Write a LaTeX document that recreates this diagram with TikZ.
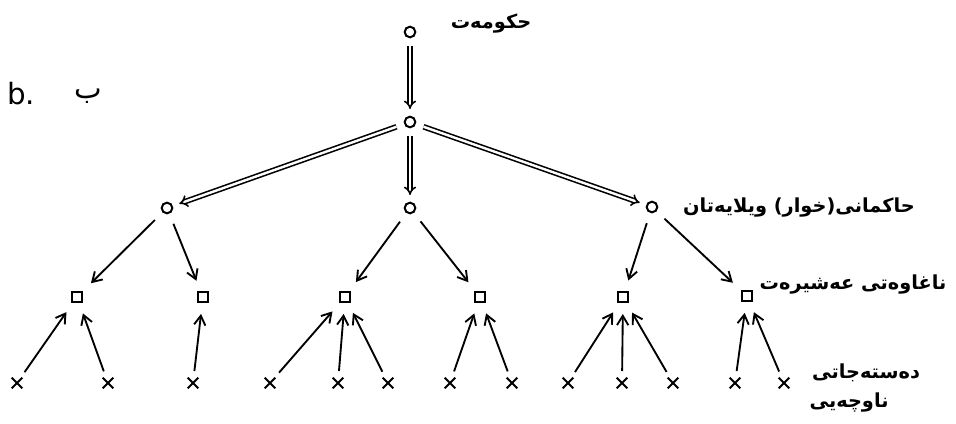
\documentclass[tikz,border=0pt]{standalone}
\usepackage{fontspec}
\setmainfont{DejaVu Sans}
\newfontfamily\kurdfont[Script=Arabic]{DejaVu Sans}
\TeXXeTstate=1
\usetikzlibrary{arrows.meta,shapes.misc}

\begin{document}
\begin{tikzpicture}[x=0.75pt,y=-0.75pt,>={Straight Barb[length=7pt,width=8.5pt]},
    ring/.style={circle,draw,line width=1.5pt,inner sep=0pt,minimum size=8pt},
    box/.style={rectangle,draw,line width=1.5pt,inner sep=0pt,minimum size=8pt},
    member/.style={cross out,draw,line width=1.5pt,inner sep=0pt,minimum size=6.5pt},
    down/.style={->,line width=1.4pt,shorten <=8pt,shorten >=8pt},
    up/.style={->,line width=1.4pt,shorten <=5pt,shorten >=8pt},
    rule/.style={double,double distance=1.8pt,line width=1.2pt,-{Implies[scale=1.3]},shorten <=6pt,shorten >=5pt},
    lbl/.style={font=\kurdfont\bfseries\fontsize{14.5}{14.5}\selectfont}]
        \useasboundingbox (0,0) rectangle (956,424);
        %government and the tier under it
        \node[ring] (gov) at (410,32) {};
        \node[ring] (mid) at (410,122) {};
        \node[ring] (gl) at (167,208) {};
        \node[ring] (gc) at (410,208) {};
        \node[ring] (gr) at (652,207) {};
        \draw[rule] (gov) -- (mid);
        \foreach \g in {gl,gc,gr}
        \draw[rule] (mid) -- (\g);
        %tribal aghas
        \foreach \n/\x/\y in {a1/77/297,a2/203/297,a3/345/297,a4/480/297,a5/623/297,a6/747/296}
        \node[box] (\n) at (\x,\y) {};
        \foreach \g/\a in {gl/a1,gl/a2,gc/a3,gc/a4,gr/a5,gr/a6}
        \draw[down] (\g) -- (\a);
        %local groups
        \foreach \x [count=\i] in {17,108,193,270,338,388,450,512,568,622,673,735,784}
        \node[member] (m\i) at (\x,383) {};
        \foreach \m/\a in {1/a1,2/a1,3/a2,4/a3,5/a3,6/a3,7/a4,8/a4,9/a5,10/a5,11/a5,12/a6,13/a6}
        \draw[up] (m\m) -- (\a);
        %labels
        \node[font=\fontsize{22}{22}\selectfont] (tagb) at (21,94) {b.};
        \node[font=\kurdfont\fontsize{22}{22}\selectfont] (tagba) at (88,96) {\beginR ب\endR};
        \node[lbl] (tgov) at (491,24) {\beginR حکومەت\endR};
        \node[lbl] (tgr) at (799,208) {\beginR حاکمانی(خوار) ویلایەتان\endR};
        \node[lbl] (taga) at (853,285) {\beginR ناغاوەتی عەشیرەت\endR};
        \node[lbl] (tgrp) at (866,373) {\beginR دەستەجاتی\endR};
        \node[lbl] (tgrp2) at (849,403) {\beginR ناوچەیی\endR};
\end{tikzpicture}
\end{document}
